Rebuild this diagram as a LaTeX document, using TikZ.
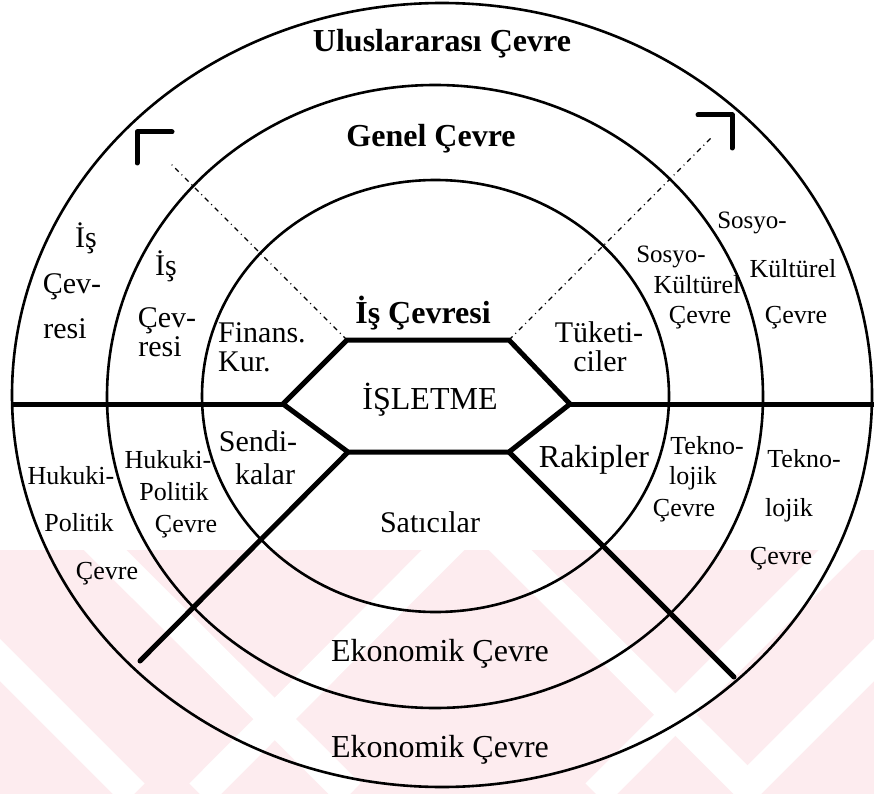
\documentclass[tikz,border=0pt]{standalone}
\usepackage{fontspec}
\setmainfont{Liberation Serif}
\definecolor{wm}{RGB}{253,236,239}
\begin{document}
\begin{tikzpicture}[x=1pt,y=-1pt,
  ring/.style={line width=2.6pt},
  bar/.style={line width=5pt},
  guide/.style={line width=1.1pt, dash pattern=on 5pt off 4pt on 1pt off 4pt},
  corner/.style={line width=5pt, line cap=round, line join=round},
  gap/.style={white, line width=30pt},
  big/.style={inner sep=0pt, anchor=base, font=\fontsize{32}{36}\selectfont},
  mid/.style={inner sep=0pt, anchor=base, font=\fontsize{30}{34}\selectfont},
  sml/.style={inner sep=0pt, anchor=base, font=\fontsize{26}{30}\selectfont},
  tiny/.style={inner sep=0pt, anchor=base, font=\fontsize{25}{29}\selectfont},
  ttl/.style={inner sep=0pt, anchor=base, font=\fontsize{32}{36}\selectfont\bfseries},
]
\useasboundingbox (0,0) rectangle (874,794);

% faint background stripes in the lower part
\begin{scope}
  \clip (0,550) rectangle (874,794);
  \fill[wm] (0,550) rectangle (874,794);
  \draw[gap] (-110,550) -- (134,794);
  \draw[gap] (85,530) -- (350,794);
  \draw[gap] (490,530) -- (755,794);
  \draw[gap] (463,530) -- (200,794);
  \draw[gap] (860,530) -- (596,794);
  \draw[gap] (984,550) -- (740,794);
\end{scope}

% the three rings
\draw[ring] (442,395) ellipse [x radius=430pt, y radius=392pt];
\draw[ring] (435,396.5) ellipse [x radius=328pt, y radius=311.5pt];
\draw[ring] (435.5,396) ellipse [x radius=233.5pt, y radius=216pt];

% central hexagon
\coordinate (tl) at (347,340);
\coordinate (tr) at (509,340);
\coordinate (r)  at (570,404);
\coordinate (br) at (509,452);
\coordinate (bl) at (348,452);
\coordinate (l)  at (283,404);
\draw[bar, line join=miter] (tl) -- (tr) -- (r) -- (br) -- (bl) -- (l) -- cycle;

% dividing lines
\coordinate (wl) at (12,404);
\coordinate (wr) at (874,404);
\coordinate (dl) at (140,661);
\coordinate (dr) at (734,677);
\draw[bar] (wl) -- (l);
\draw[bar] (r) -- (wr);
\draw[bar, line cap=round] (bl) -- (dl);
\draw[bar, line cap=round] (br) -- (dr);

% dash-dot guides towards the corner marks
\coordinate (gl) at (170,163);
\coordinate (gr) at (712,137);
\draw[guide] (tl) -- (gl);
\draw[guide] (tr) -- (gr);

% corner marks
\coordinate (cl) at (137,132);
\coordinate (cr) at (732,115);
\draw[corner] (137,163) -- (cl) -- (172,132);
\draw[corner] (698,115) -- (cr) -- (732,148);

% titles
\node[ttl] (ulus)  at (442,52)  {Uluslararası Çevre};
\node[ttl] (genel) at (431,147) {Genel Çevre};
\node[ttl] (is)    at (423,323) {İş Çevresi};

% inner ring
\node[big] (isletme) at (430,409) {İŞLETME};
\node[mid, anchor=base west] (finans) at (218,342) {Finans.};
\node[mid, anchor=base west] (kur)    at (218,371) {Kur.};
\node[mid] (tuketi) at (599,342) {Tüketi-};
\node[mid] (ciler)  at (600,371) {ciler};
\node[mid] (sendi)  at (258,451) {Sendi-};
\node[mid] (kalar)  at (265,484) {kalar};
\node[big] (rakip)  at (594,467) {Rakipler};
\node[mid] (satici) at (430,532) {Satıcılar};

% economic labels
\node[big] (eko1) at (440,661) {Ekonomik Çevre};
\node[big] (eko2) at (440,757) {Ekonomik Çevre};

% left, upper
\node[mid] (oi1) at (86,247)  {İş};
\node[mid] (oi2) at (72,293)  {Çev-};
\node[mid] (oi3) at (65,338)  {resi};
\node[mid] (mi1) at (166,275) {İş};
\node[mid] (mi2) at (167,327) {Çev-};
\node[mid] (mi3) at (160,356) {resi};

% right, upper
\node[tiny] (ms1) at (671,262) {Sosyo-};
\node[sml]  (ms2) at (697,293) {Kültürel};
\node[sml]  (ms3) at (700,323) {Çevre};
\node[tiny] (os1) at (752,228) {Sosyo-};
\node[sml]  (os2) at (793,277) {Kültürel};
\node[sml]  (os3) at (796,323) {Çevre};

% left, lower
\node[sml] (oh1) at (71,484)  {Hukuki-};
\node[sml] (oh2) at (79,531)  {Politik};
\node[sml] (oh3) at (107,579) {Çevre};
\node[sml] (mh1) at (168,468) {Hukuki-};
\node[sml] (mh2) at (174,500) {Politik};
\node[sml] (mh3) at (186,532) {Çevre};

% right, lower
\node[sml] (mt1) at (707,454) {Tekno-};
\node[sml] (mt2) at (693,484) {lojik};
\node[sml] (mt3) at (684,516) {Çevre};
\node[sml] (ot1) at (804,467) {Tekno-};
\node[sml] (ot2) at (789,516) {lojik};
\node[sml] (ot3) at (781,564) {Çevre};
\end{tikzpicture}
\end{document}
